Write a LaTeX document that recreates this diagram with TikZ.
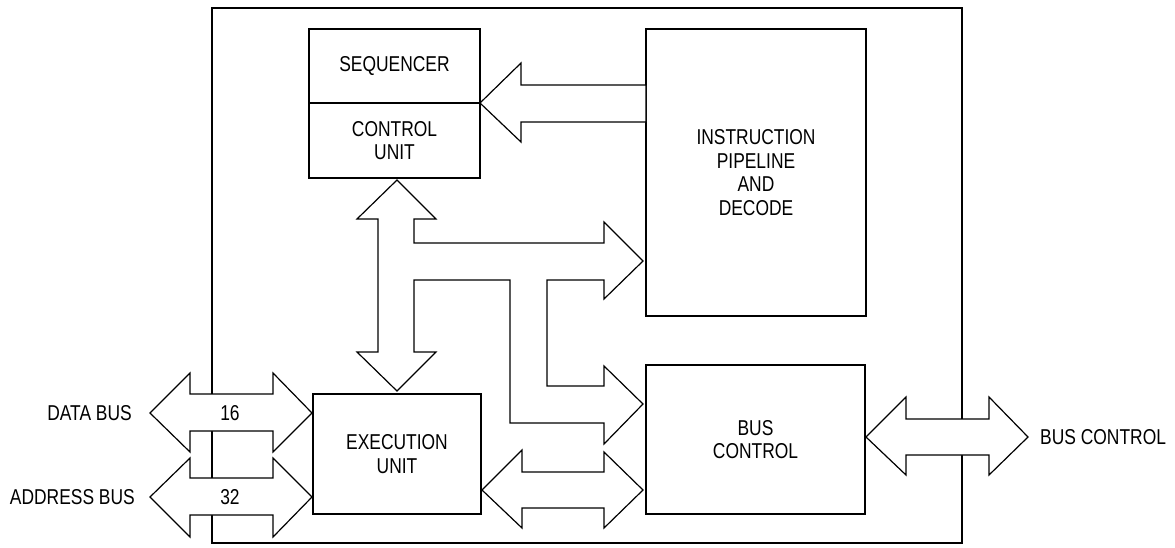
\documentclass[tikz,border=0pt]{standalone}
\usepackage{fontspec}
\setmainfont{Liberation Sans}[FakeStretch=0.81]
\newcommand\dgfont{\fontsize{21.5}{23.7}\selectfont}
\begin{document}
\begin{tikzpicture}[x=1pt,y=-1pt,
  box/.style={draw,line width=1.2pt,inner sep=0pt,align=center,font=\dgfont},
  lbl/.style={inner sep=0pt,align=center,font=\dgfont},
  bus/.style={draw,fill=white,line width=1.2pt,line join=miter},
  outer/.style={draw,line width=1.8pt}]
\useasboundingbox (0,0) rectangle (1175,547);
% outer chip boundary
\draw[outer] (212,8) rectangle (962,543);
% blocks
\node[box,minimum width=171pt,minimum height=74pt] (seq) at (394.5,66) {SEQUENCER};
\node[box,minimum width=171pt,minimum height=75pt] (cu) at (394.5,140.5) {CONTROL\\UNIT};
\node[box,minimum width=220pt,minimum height=287pt] (ipd) at (756,172.5) {INSTRUCTION\\PIPELINE\\AND\\DECODE};
\node[box,minimum width=168pt,minimum height=120pt] (eu) at (397,454) {EXECUTION\\UNIT};
\node[box,minimum width=219pt,minimum height=149pt] (bc) at (755.5,439.5) {BUS\\CONTROL};
% instruction -> sequencer arrow
\draw[bus] (480,103) -- (521,63) -- (521,85) -- (646,85) -- (646,122) -- (521,122) -- (521,142) -- cycle;
% internal bus
\draw[bus] (397,180) -- (436,219) -- (414,219) -- (414,243) -- (604,243) -- (604,222) -- (643,261)
  -- (604,299) -- (604,280) -- (547,280) -- (547,386) -- (604,386) -- (604,366) -- (643,404)
  -- (604,444) -- (604,423) -- (510,423) -- (510,280) -- (414,280) -- (414,352) -- (436,352)
  -- (397,391) -- (357,352) -- (378,352) -- (378,219) -- (357,219) -- cycle;
% execution <-> bus control
\draw[bus] (482,490) -- (522,450) -- (522,472) -- (604,472) -- (604,452) -- (643,490) -- (604,528) -- (604,508) -- (522,508) -- (522,528) -- cycle;
% external bus control
\draw[bus] (866,437) -- (906,397) -- (906,419) -- (989,419) -- (989,397) -- (1028,437) -- (989,475) -- (989,455) -- (906,455) -- (906,475) -- cycle;
% data bus
\draw[bus] (150,413) -- (190,373) -- (190,394) -- (273,394) -- (273,373) -- (312,413) -- (273,452) -- (273,431) -- (190,431) -- (190,452) -- cycle;
% address bus
\draw[bus] (150,497) -- (190,458) -- (190,478) -- (273,478) -- (273,458) -- (312,497) -- (273,537) -- (273,515) -- (190,515) -- (190,537) -- cycle;
% labels
\node[lbl] (n16) at (230,413) {16};
\node[lbl] (n32) at (230,497) {32};
\node[lbl,anchor=east] (ldata) at (132,413) {DATA BUS};
\node[lbl,anchor=east] (laddr) at (135,497) {ADDRESS BUS};
\node[lbl,anchor=west] (lbc) at (1040,437) {BUS CONTROL};
\end{tikzpicture}
\end{document}
